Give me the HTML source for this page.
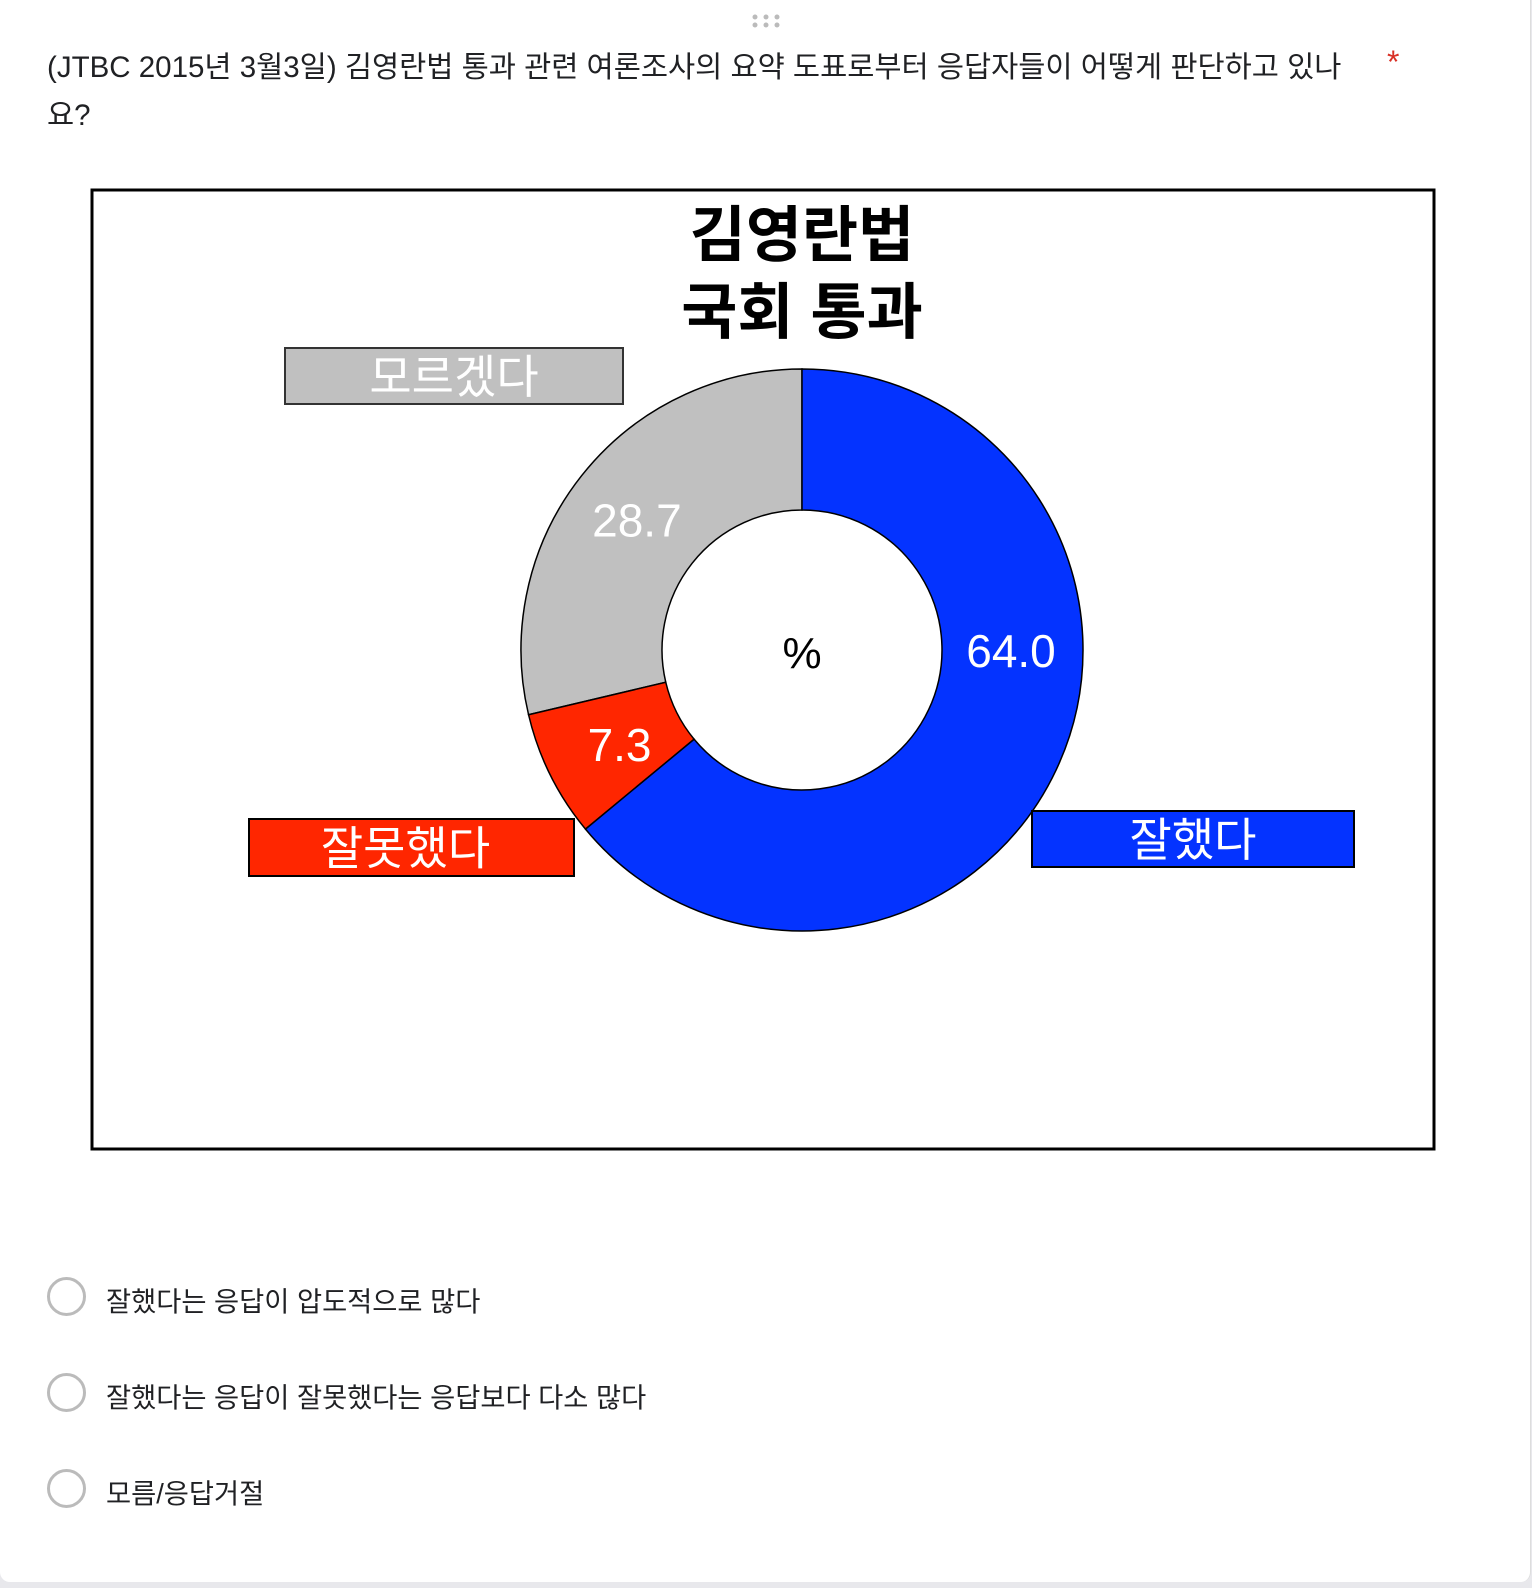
<!DOCTYPE html>
<html><head><meta charset="utf-8">
<style>
html,body{margin:0;padding:0;width:1532px;height:1588px;background:#e8e8ec;overflow:hidden;font-family:"Liberation Sans","Noto Sans CJK KR",sans-serif;}
.card{position:absolute;left:0;top:0;width:1530px;height:1582px;background:#fff;border-radius:0 0 10px 10px;border-right:1px solid #ddd;}
.q{position:absolute;left:47px;top:44px;width:1360px;font-size:29.5px;line-height:48px;color:#202124;white-space:nowrap;}
.star{position:absolute;left:1387px;top:44px;color:#d93025;font-size:32px;}
.opt{position:absolute;left:106px;font-size:27.3px;color:#202124;}
.radio{position:absolute;left:47px;border:3px solid #bbb;border-radius:50%;box-sizing:border-box;width:39px;height:39px;}
</style></head><body>
<div class="card">
<div style="position:absolute;left:750px;top:12px;width:34px;height:18px;">
<svg width="34" height="18"><g fill="#bbb"><circle cx="5" cy="5" r="2.5"/><circle cx="16" cy="5" r="2.5"/><circle cx="27" cy="5" r="2.5"/><circle cx="5" cy="13" r="2.5"/><circle cx="16" cy="13" r="2.5"/><circle cx="27" cy="13" r="2.5"/></g></svg></div>
<div class="q">(JTBC 2015년 3월3일) 김영란법 통과 관련 여론조사의 요약 도표로부터 응답자들이 어떻게 판단하고 있나<br>요?</div>
<div class="star">*</div>
<svg id="chart" style="position:absolute;left:0;top:0" width="1532" height="1200">
<rect x="92" y="190" width="1342" height="959" fill="#fff" stroke="#000" stroke-width="3"/>
<text x="802" y="256" text-anchor="middle" font-size="61" font-weight="bold" fill="#000">김영란법</text>
<text x="802" y="333" text-anchor="middle" font-size="61" font-weight="bold" fill="#000">국회 통과</text>
<text x="802" y="668" text-anchor="middle" font-size="44" fill="#000">%</text>
</svg>
<div class="radio" style="top:1277px"></div>
<div class="opt" style="top:1279px">잘했다는 응답이 압도적으로 많다</div>
<div class="radio" style="top:1373px"></div>
<div class="opt" style="top:1375px">잘했다는 응답이 잘못했다는 응답보다 다소 많다</div>
<div class="radio" style="top:1469px"></div>
<div class="opt" style="top:1471px">모름/응답거절</div>
</div>
<script>
const categories = ['잘했다','잘못했다','모르겠다'];
const values = [64.0, 7.3, 28.7];
const colors = ['#0433ff','#ff2600','#c0c0c0'];
const svg = document.getElementById('chart');
const NS = 'http://www.w3.org/2000/svg';
const cx = 802, cy = 650, R = 281, r = 140;
const total = values.reduce((a,b)=>a+b,0);
function pt(rad, frac){const a = frac*2*Math.PI; return [cx + rad*Math.sin(a), cy - rad*Math.cos(a)];}
let acc = 0;
const labelFrac = [];
values.forEach((v,i)=>{
  const f0 = acc/total, f1 = (acc+v)/total; acc += v;
  const large = (f1-f0) > 0.5 ? 1 : 0;
  const [x0,y0]=pt(R,f0),[x1,y1]=pt(R,f1),[x2,y2]=pt(r,f1),[x3,y3]=pt(r,f0);
  const p = document.createElementNS(NS,'path');
  p.setAttribute('d',`M${x0},${y0} A${R},${R} 0 ${large} 1 ${x1},${y1} L${x2},${y2} A${r},${r} 0 ${large} 0 ${x3},${y3} Z`);
  p.setAttribute('fill',colors[i]); p.setAttribute('stroke','#000'); p.setAttribute('stroke-width','1.5');
  
  
  svg.insertBefore(p, svg.children[1]);
  labelFrac.push((f0+f1)/2);
});
values.forEach((v,i)=>{
  const [lx,ly] = i===0 ? [cx+209, cy] : pt((R+r)/2, labelFrac[i]);
  const t = document.createElementNS(NS,'text');
  t.setAttribute('x', i===1 ? lx+6 : lx); t.setAttribute('y', ly+17);
  t.setAttribute('text-anchor','middle'); t.setAttribute('font-size','46'); t.setAttribute('fill','#fff');
  t.textContent = v.toFixed(1);
  
  
  svg.appendChild(t);
});
const boxes = [[1032,811,322,56],[249,819,325,57],[285,348,338,56]];
categories.forEach((c,i)=>{
  const [bx,by,bw,bh] = boxes[i];
  const rc = document.createElementNS(NS,'rect');
  rc.setAttribute('x',bx); rc.setAttribute('y',by); rc.setAttribute('width',bw); rc.setAttribute('height',bh);
  rc.setAttribute('fill',colors[i]); rc.setAttribute('stroke', i===2?'#333':'#000'); rc.setAttribute('stroke-width','2');
  
  
  svg.appendChild(rc);
  const t = document.createElementNS(NS,'text');
  t.setAttribute('x', i===1 ? bx+bw/2-6 : bx+bw/2); t.setAttribute('y',by+bh/2+17);
  t.setAttribute('text-anchor','middle'); t.setAttribute('font-size','46'); t.setAttribute('fill','#fff');
  t.textContent = c;
  
  
  svg.appendChild(t);
});
</script>
</body></html>
